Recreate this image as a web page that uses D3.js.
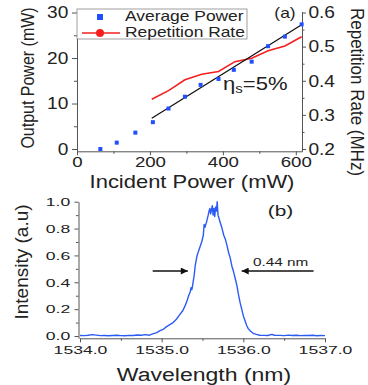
<!DOCTYPE html>
<html>
<head>
<meta charset="utf-8">
<script src="https://cdn.jsdelivr.net/npm/d3@7"></script>
<style>
  body { margin: 0; background: #fff; }
  svg { display: block; font-family: "Liberation Sans", Arial, sans-serif; }
  .axis path, .axis line { stroke: #555; }
  .axis text { fill: #222; }
</style>
</head>
<body>
<div id="chart"></div>
<script>
// ---- panel (a) data ----
var incident = [64, 109, 160, 208, 251, 296, 339, 388, 430, 479, 524, 570, 616];
var avgPower = [0, 1.4, 3.6, 5.9, 8.9, 11.5, 14.1, 15.4, 17.4, 19.2, 22.6, 24.7, 27.4];
var repIncident = [205, 251, 296, 342, 388, 433, 479, 524, 570, 616];
var repRate = [0.346, 0.371, 0.403, 0.419, 0.427, 0.456, 0.466, 0.488, 0.502, 0.529];
var fitX = [205, 616];
var fitY = [6.75, 27.3];
var xTicksA = [0, 200, 400, 600];
var yTicksA = [0, 10, 20, 30];
var rTicksA = [0.2, 0.3, 0.4, 0.5, 0.6];

// ---- panel (b) data ----
var wavelength = [1534.00, 1534.05, 1534.10, 1534.15, 1534.20, 1534.25, 1534.30, 1534.35, 1534.40, 1534.45,
  1534.50, 1534.55, 1534.60, 1534.65, 1534.70, 1534.75, 1534.80, 1534.85, 1534.90, 1534.94,
  1534.98, 1535.02, 1535.06, 1535.10, 1535.14, 1535.18, 1535.22, 1535.26, 1535.29, 1535.31,
  1535.33, 1535.35, 1535.36, 1535.37, 1535.38, 1535.40, 1535.41, 1535.43, 1535.45, 1535.47,
  1535.49, 1535.51, 1535.52, 1535.53, 1535.55, 1535.57, 1535.58, 1535.59, 1535.60, 1535.61,
  1535.62, 1535.63, 1535.64, 1535.65, 1535.66, 1535.67, 1535.68, 1535.69, 1535.70, 1535.72,
  1535.74, 1535.76, 1535.78, 1535.80, 1535.82, 1535.84, 1535.86, 1535.88, 1535.90, 1535.92,
  1535.94, 1535.96, 1535.98, 1536.00, 1536.02, 1536.04, 1536.06, 1536.09, 1536.12, 1536.16,
  1536.20, 1536.25, 1536.30, 1536.35, 1536.38, 1536.45, 1536.50, 1536.55, 1536.60, 1536.65,
  1536.70, 1536.75, 1536.80, 1536.85, 1536.90, 1536.95, 1537.00];
var intensity = [0.004, 0.003, 0.006, 0.010, 0.007, 0.003, 0.004, 0.002, 0.004, 0.006,
  0.003, 0.002, 0.005, 0.004, 0.008, 0.006, 0.010, 0.006, 0.018, 0.025,
  0.040, 0.050, 0.070, 0.085, 0.100, 0.125, 0.158, 0.190, 0.230, 0.260,
  0.300, 0.330, 0.360, 0.345, 0.380, 0.460, 0.520, 0.590, 0.630, 0.665,
  0.700, 0.750, 0.830, 0.810, 0.850, 0.900, 0.930, 0.950, 0.910, 0.940,
  0.970, 0.900, 0.950, 0.890, 0.960, 0.930, 1.000, 0.900, 0.880, 0.840,
  0.800, 0.750, 0.720, 0.675, 0.620, 0.580, 0.520, 0.480, 0.430, 0.380,
  0.310, 0.250, 0.200, 0.150, 0.115, 0.080, 0.055, 0.035, 0.020, 0.012,
  0.006, 0.005, 0.004, 0.012, 0.006, 0.005, 0.003, 0.007, 0.004, 0.006,
  0.003, 0.005, 0.004, 0.006, 0.002, 0.004, 0.003];
var xTicksB = [1534, 1535, 1536, 1537];
var yTicksB = [0, 0.2, 0.4, 0.6, 0.8, 1.0];
var arrowLeft = [1534.89, 1535.32];
var arrowRight = [1536.86, 1535.98];
var arrowLevel = 0.484;

var W = 368, H = 385;
var svg = d3.select("#chart").append("svg").attr("width", W).attr("height", H);

var defs = svg.append("defs");
defs.append("marker").attr("id", "head")
  .attr("viewBox", "0 0 10 10").attr("refX", 10).attr("refY", 5)
  .attr("markerWidth", 8).attr("markerHeight", 7).attr("markerUnits", "userSpaceOnUse")
  .attr("orient", "auto")
  .append("path").attr("d", "M0,0L10,5L0,10z").attr("fill", "#111");

// text helper: horizontally stretched labels like the scanned figure
function label(x, y, str, size, sx, rot, anchor) {
  var t = "translate(" + x + "," + y + ")";
  if (rot) t += " rotate(" + rot + ") scale(1," + sx + ")";
  else t += " scale(" + sx + ",1)";
  return svg.append("text").attr("transform", t)
    .attr("font-size", size).attr("text-anchor", anchor || "middle")
    .attr("fill", "#222").text(str);
}

// ================= panel (a) =================
var sxA = 1.16;
var xA = d3.scaleLinear().domain([0, 617]).range([77, 302]);
var yA = d3.scaleLinear().domain([-0.5, 30.2]).range([151.3, 11.6]);
var rA = d3.scaleLinear().domain([0.2 - 0.5 / 75, 0.6 + 0.2 / 75]).range([151.3, 11.6]);

function styleTicks(g, sx, size) {
  g.selectAll("text").attr("font-size", size)
    .attr("transform", "scale(" + sx + ",1)");
  g.select(".domain").attr("stroke", "#555");
}

var gxA = svg.append("g").attr("class", "axis")
  .attr("transform", "translate(0," + 151.3 + ")")
  .call(d3.axisBottom(xA).tickValues(xTicksA).tickSize(4).tickSizeOuter(0).tickPadding(1));
styleTicks(gxA, 1.22, 15.3);
svg.append("g").attr("class", "axis").attr("transform", "translate(0," + 151.3 + ")")
  .call(d3.axisBottom(xA).tickValues([100, 300, 500]).tickSize(2.5).tickFormat("").tickSizeOuter(0))
  .select(".domain").remove();

var gyA = svg.append("g").attr("class", "axis").attr("transform", "translate(77,0)")
  .call(d3.axisLeft(yA).tickValues(yTicksA).tickSize(5).tickSizeOuter(0).tickPadding(2.5));
styleTicks(gyA, sxA, 16.5);
svg.append("g").attr("class", "axis").attr("transform", "translate(77,0)")
  .call(d3.axisLeft(yA).tickValues([5, 15, 25]).tickSize(3).tickFormat("").tickSizeOuter(0))
  .select(".domain").remove();

var grA = svg.append("g").attr("class", "axis").attr("transform", "translate(302,0)")
  .call(d3.axisRight(rA).tickValues(rTicksA).tickSize(4).tickSizeOuter(0).tickPadding(1.5)
    .tickFormat(d3.format(".1f")));
styleTicks(grA, sxA, 16.5);
svg.append("g").attr("class", "axis").attr("transform", "translate(302,0)")
  .call(d3.axisRight(rA).tickValues([0.25, 0.35, 0.45, 0.55]).tickSize(2.5).tickFormat("").tickSizeOuter(0))
  .select(".domain").remove();

// repetition rate
svg.append("path")
  .datum(d3.range(repIncident.length))
  .attr("fill", "none").attr("stroke", "#f41f1f").attr("stroke-width", 1.6)
  .attr("d", d3.line().x(function(i) { return xA(repIncident[i]); })
    .y(function(i) { return rA(repRate[i]); }));

// linear fit
svg.append("path")
  .datum(d3.range(fitX.length))
  .attr("fill", "none").attr("stroke", "#111").attr("stroke-width", 1.3)
  .attr("d", d3.line().x(function(i) { return xA(fitX[i]); })
    .y(function(i) { return yA(fitY[i]); }));

// average power squares
svg.selectAll("rect.pt").data(d3.range(incident.length)).enter()
  .append("rect").attr("class", "pt")
  .attr("x", function(i) { return xA(incident[i]) - 2; })
  .attr("y", function(i) { return yA(avgPower[i]) - 2; })
  .attr("width", 4).attr("height", 4)
  .attr("fill", "#1f4fff");

// legend
svg.append("rect").attr("x", 77).attr("y", 9).attr("width", 170).attr("height", 30)
  .attr("fill", "#fff").attr("stroke", "#888").attr("stroke-width", 0.8);
svg.append("rect").attr("x", 97).attr("y", 14).attr("width", 6).attr("height", 6).attr("fill", "#1f4fff");
svg.append("line").attr("x1", 82).attr("x2", 120).attr("y1", 33).attr("y2", 33)
  .attr("stroke", "#f41f1f").attr("stroke-width", 1.6);
svg.append("circle").attr("cx", 100).attr("cy", 33).attr("r", 4).attr("fill", "#f41f1f");
label(125, 21, "Average Power", 15, sxA, 0, "start");
label(125, 36.5, "Repetition Rate", 15, sxA, 0, "start");

label(285, 18, "(a)", 15, sxA);
var eta = label(223, 90, "", 19, sxA, 0, "start");
eta.append("tspan").text("η");
eta.append("tspan").attr("font-size", 13).attr("dy", 3).text("s");
eta.append("tspan").attr("dy", -3).text("=5%");

label(192, 188, "Incident Power (mW)", 18, 1.22);
label(34, 78, "Output Power (mW)", 16, 1.2, -90);
label(351, 92, "Repetition Rate (MHz)", 17, 1.1, 90);

// ================= panel (b) =================
var sxB = 1.49;
var xB = d3.scaleLinear().domain([1534, 1537]).range([80, 325]);
var yB = d3.scaleLinear().domain([-0.017, 1.0]).range([338.3, 201.7]);

var gxB = svg.append("g").attr("class", "axis").attr("transform", "translate(0,338.3)")
  .call(d3.axisBottom(xB).tickValues(xTicksB).tickSize(4).tickSizeOuter(0).tickPadding(3)
    .tickFormat(d3.format(".1f")));
styleTicks(gxB, sxB, 11.8);
svg.append("g").attr("class", "axis").attr("transform", "translate(0,338.3)")
  .call(d3.axisBottom(xB).tickValues([1534.5, 1535.5, 1536.5]).tickSize(2.5).tickFormat("").tickSizeOuter(0))
  .select(".domain").remove();

var gyB = svg.append("g").attr("class", "axis").attr("transform", "translate(78.5,0)")
  .call(d3.axisLeft(yB).tickValues(yTicksB).tickSize(4).tickSizeOuter(0).tickPadding(1.6)
    .tickFormat(d3.format(".1f")));
styleTicks(gyB, sxB, 11.8);
svg.append("g").attr("class", "axis").attr("transform", "translate(78.5,0)")
  .call(d3.axisLeft(yB).tickValues([0.1, 0.3, 0.5, 0.7, 0.9]).tickSize(2.5).tickFormat("").tickSizeOuter(0))
  .select(".domain").remove();

svg.append("path")
  .datum(d3.range(wavelength.length))
  .attr("fill", "none").attr("stroke", "#2a5cf5").attr("stroke-width", 1.4)
  .attr("stroke-linejoin", "round")
  .attr("d", d3.line().x(function(i) { return xB(wavelength[i]); })
    .y(function(i) { return yB(intensity[i]); }));

[arrowLeft, arrowRight].forEach(function(a) {
  svg.append("line")
    .attr("x1", xB(a[0])).attr("x2", xB(a[1]))
    .attr("y1", yB(arrowLevel)).attr("y2", yB(arrowLevel))
    .attr("stroke", "#111").attr("stroke-width", 1.5)
    .attr("marker-end", "url(#head)");
});

label(253, 266, "0.44 nm", 10.3, sxB, 0, "start");
label(280.5, 216, "(b)", 14, sxB);
label(204, 381, "Wavelength (nm)", 18, 1.28);
label(28, 262, "Intensity (a.u)", 19, 1.0, -90);
</script>
</body>
</html>
